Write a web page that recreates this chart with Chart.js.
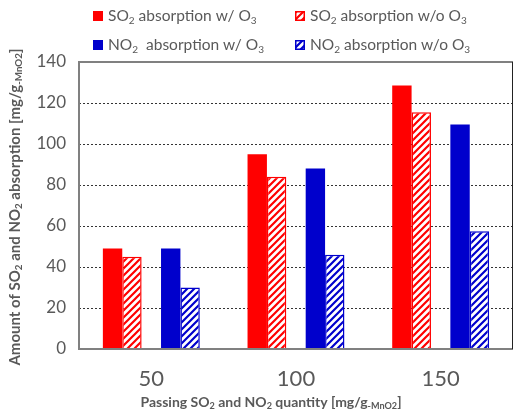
<!DOCTYPE html>
<html>
<head>
<meta charset="utf-8">
<script src="https://cdn.jsdelivr.net/npm/chart.js@4"></script>
<style>
  body { margin: 0; background: #fff; }
  #wrap { width: 515px; height: 415px; }
</style>
</head>
<body>
<div id="wrap"><canvas id="absChart" width="515" height="415"></canvas></div>
<script>
// values
var categories = ['50', '100', '150'];
var so2With = [49, 95, 128.5];
var so2Without = [45, 84, 115.5];
var no2With = [49, 88, 109.5];
var no2Without = [30, 46, 57.5];
var yMax = 140, yStep = 20;

// legend labels, [text, subscript?]
var legendLabels = [
	[['SO', 0], ['2', 1], [' absorption w/ O', 0], ['3', 1]],
	[['SO', 0], ['2', 1], [' absorption w/o O', 0], ['3', 1]],
	[['NO', 0], ['2', 1], ['  absorption w/ O', 0], ['3', 1]],
	[['NO', 0], ['2', 1], [' absorption w/o O', 0], ['3', 1]]
];
var yTitle = [['Amount of SO', 0], ['2', 1], [' and NO', 0], ['2', 1], [' absorption [mg/g', 0], ['-MnO2', 1], [']', 0]];
var xTitle = [['Passing SO', 0], ['2', 1], [' and NO', 0], ['2', 1], [' quantity [mg/g', 0], ['-MnO2', 1], [']', 0]];

var RED = '#ff0000', BLUE = '#0000cc', GREY = '#595959';
var FONT = 'Lato, "Noto Sans", sans-serif';

function hatch(color) {
	var n = 7;
	var c = document.createElement('canvas');
	c.width = n; c.height = n;
	var g = c.getContext('2d');
	g.fillStyle = '#fff';
	g.fillRect(0, 0, n, n);
	g.strokeStyle = color;
	g.lineWidth = 2.2;
	g.beginPath();
	g.moveTo(-1, n + 1); g.lineTo(n + 1, -1);
	g.moveTo(-n / 2 - 1, n / 2 + 1); g.lineTo(n / 2 + 1, -n / 2 - 1);
	g.moveTo(n / 2 - 1, n * 1.5 + 1); g.lineTo(n * 1.5 + 1, n / 2 - 1);
	g.stroke();
	return g.createPattern(c, 'repeat');
}

// draws text with subscript pieces, centred or left aligned at x
function drawRich(ctx, parts, x, y, size, bold, align) {
	var w = 0, subSize = size * 0.65;
	var weight = bold ? 'bold ' : '';
	parts.forEach(function (p) {
		ctx.font = weight + (p[1] ? subSize : size) + 'px ' + FONT;
		w += ctx.measureText(p[0]).width;
	});
	var cx = align === 'center' ? x - w / 2 : x;
	ctx.textBaseline = 'middle';
	ctx.textAlign = 'left';
	parts.forEach(function (p) {
		ctx.font = weight + (p[1] ? subSize : size) + 'px ' + FONT;
		ctx.fillText(p[0], cx, p[1] ? y + size * 0.28 : y);
		cx += ctx.measureText(p[0]).width;
	});
	return w;
}

var extras = {
	id: 'extras',
	afterDatasetsDraw: function (chart) {
		var ctx = chart.ctx, a = chart.chartArea;
		ctx.save();
		ctx.strokeStyle = '#808080';
		ctx.lineWidth = 2;
		ctx.beginPath();
		ctx.moveTo(a.right, a.top); ctx.lineTo(a.left, a.top);
		ctx.lineTo(a.left, a.bottom); ctx.lineTo(a.right, a.bottom);
		ctx.stroke();
		ctx.strokeStyle = '#222';
		ctx.lineWidth = 1;
		ctx.beginPath();
		ctx.moveTo(a.right - 0.5, a.top); ctx.lineTo(a.right - 0.5, a.bottom);
		ctx.stroke();
		ctx.restore();
	},
	afterDraw: function (chart) {
		var ctx = chart.ctx;
		ctx.save();
		ctx.fillStyle = GREY;
		// legend in two columns
		var cols = [93, 295], rows = [16, 45];
		var shown = chart.data.datasets.filter(function (d) { return d.label; });
		shown.forEach(function (d, i) {
			var bx = cols[i % 2], by = rows[Math.floor(i / 2)];
			ctx.fillStyle = d.backgroundColor;
			ctx.fillRect(bx, by - 5, 10, 10);
			if (d.borderWidth) {
				ctx.strokeStyle = d.borderColor;
				ctx.lineWidth = 1.5;
				ctx.strokeRect(bx + 0.75, by - 4.25, 8.5, 8.5);
			}
			ctx.fillStyle = GREY;
			drawRich(ctx, legendLabels[i], bx + 15, by, 15.5, false, 'left');
		});
		// axis titles
		drawRich(ctx, xTitle, 271, 402, 14, true, 'center');
		ctx.translate(15, 207);
		ctx.rotate(-Math.PI / 2);
		drawRich(ctx, yTitle, 0, 0, 15, true, 'center');
		ctx.restore();
	}
};

function loadChart() {
	var ctx = document.getElementById('absChart');
	new Chart(ctx, {
		type: 'bar',
		data: {
			labels: categories,
			datasets: [
				{ label: 'SO2 absorption w/ O3', data: so2With, backgroundColor: RED, borderWidth: 0 },
				{ label: 'SO2 absorption w/o O3', data: so2Without, backgroundColor: hatch(RED), borderColor: RED, borderWidth: 1.5 },
				{ label: '', data: [null, null, null], backgroundColor: 'transparent' }, // gap between pairs
				{ label: 'NO2 absorption w/ O3', data: no2With, backgroundColor: BLUE, borderWidth: 0 },
				{ label: 'NO2 absorption w/o O3', data: no2Without, backgroundColor: hatch(BLUE), borderColor: BLUE, borderWidth: 1.5 }
			]
		},
		options: {
			responsive: false,
			animation: false,
			categoryPercentage: 0.67,
			barPercentage: 1,
			layout: { padding: { top: 62, right: 2, left: 0, bottom: 0 } },
			plugins: {
				legend: { display: false },
				tooltip: { enabled: false }
			},
			scales: {
				x: {
					grid: { display: false },
					border: { display: false },
					ticks: { color: GREY, font: { family: FONT, size: 22 }, padding: 9 },
					afterFit: function (s) { s.height = 66; }
				},
				y: {
					min: 0,
					max: yMax,
					ticks: { stepSize: yStep, color: GREY, font: { family: FONT, size: 17 }, padding: 13 },
					grid: {
						drawTicks: false,
						lineWidth: 1,
						color: function (c) {
							return (c.tick && (c.tick.value === 0 || c.tick.value === yMax)) ? 'transparent' : '#333';
						}
					},
					border: { display: false, dash: [2, 2] },
					afterFit: function (s) { s.width = 79; }
				}
			}
		},
		plugins: [extras]
	});
}
window.addEventListener('load', function () { loadChart(); });
</script>
</body>
</html>
